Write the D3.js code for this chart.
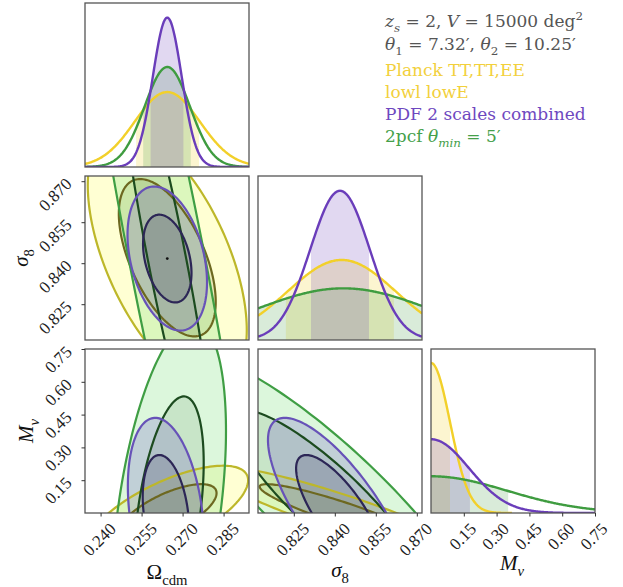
<!DOCTYPE html>
<html><head><meta charset="utf-8">
<script src="https://cdn.jsdelivr.net/npm/d3@7"></script>
<style>body{margin:0;background:#fff}svg{display:block}</style>
</head><body>
<svg id="chart" width="623" height="587"></svg>
<script>
// ---------------- DATA ----------------
const paramNames = ["Ωcdm", "σ8", "Mν"];
const omegaDomain = [0.2343, 0.2943];
const sigma8Domain = [0.8119, 0.8719];
const mnuDomain = [0, 0.75];
const omegaTicks = [0.240, 0.255, 0.270, 0.285];
const sigma8Ticks = [0.825, 0.840, 0.855, 0.870];
const mnuTicks = [0.15, 0.30, 0.45, 0.60, 0.75];

// series order: Planck, PDF 2 scales combined, 2pcf
const seriesNames = ["Planck TT,TT,EE lowl lowE", "PDF 2 scales combined", "2pcf θmin = 5′"];

// 1D marginals (mean, width, peak height as fraction of panel, 68% band)
const omegaMean = [0.2644, 0.2644, 0.2644];
const omegaSigma = [0.0119, 0.00527, 0.00827];
const omegaPeak = [0.457, 0.911, 0.61];
const omegaBandLo = [0.2530, 0.2583, 0.2556];
const omegaBandHi = [0.2760, 0.2703, 0.2730];

const sigma8Mean = [0.8425, 0.8419, 0.8431];
const sigma8Sigma = [0.0198, 0.0109, 0.0315];
const sigma8Peak = [0.488, 0.91, 0.315];
const sigma8BandLo = [0.8221, 0.8313, 0.8116];
const sigma8BandHi = [0.8616, 0.8525, 0.8746];

const mnuMean = [0, 0, 0];
const mnuSigma = [0.0869, 0.174, 0.348];
const mnuPeak = [0.915, 0.45, 0.224];
const mnuBandLo = [0, 0, 0];
const mnuBandHi = [0.0869, 0.178, 0.353];
const mnuCurveEnd = [0.37, 0.75, 0.75];

// 2D contours: Ωcdm – σ8
const omSigCx = [0.2644, 0.2644, 0.2642];
const omSigCy = [0.8420, 0.8417, 0.8420];
const omSigSx = [0.0117, 0.00585, 0.01244];
const omSigSy = [0.0190, 0.0106, 0.0585];
const omSigRho = [-0.56, -0.33, -0.91];
const omSigK68 = [1.515, 1.515, 1.37];
const omSigK95 = [2.486, 2.486, 2.72];

// 2D contours: Ωcdm – Mν
const omMnuCx = [0.2644, 0.2639, 0.2650];
const omMnuCy = [0, 0, 0];
const omMnuSx = [0.0119, 0.0056, 0.0084];
const omMnuSy = [0.087, 0.175, 0.352];
const omMnuRho = [0.69, -0.28, 0.43];
const omMnuK68 = [1.515, 1.515, 1.515];
const omMnuK95 = [2.486, 2.486, 2.486];

// 2D contours: σ8 – Mν
const sigMnuCx = [0.8425, 0.8419, 0.8370];
const sigMnuCy = [0, 0, 0.065];
const sigMnuSx = [0.0198, 0.0106, 0.02276];
const sigMnuSy = [0.087, 0.175, 0.2675];
const sigMnuRho = [-0.913, -0.766, -0.87];
const sigMnuK68 = [1.515, 1.515, 1.515];
const sigMnuK95 = [2.486, 2.486, 2.486];

const fiducialPoint = [0.2644, 0.8417];

// ---------------- STYLE ----------------
const lineColor1D = ["#f2d02a", "#6a3dba", "#3f9c40"];
const fill1D = ["rgba(242,208,42,0.22)", "rgba(106,61,186,0.2)", "rgba(63,156,64,0.2)"];
const outerLine2D = ["#bdb72a", "#6752b8", "#3f9e44"];
const innerLine2D = ["#6d6820", "#2c2656", "#1c4b1f"];
const outerFill2D = ["rgba(255,255,150,0.42)", "rgba(110,90,200,0.25)", "rgba(140,230,140,0.3)"];
const innerFill2D = ["rgba(110,110,30,0.15)", "rgba(40,30,80,0.16)", "rgba(30,80,30,0.1)"];
const drawOrder = [0, 2, 1];

const size = 164, colX = [85, 258, 431], rowY = [3, 176, 349];
const svg = d3.select("#chart");
const domains = [omegaDomain, sigma8Domain, mnuDomain];
const xS = domains.map((d, i) => d3.scaleLinear().domain(d).range([colX[i], colX[i] + size]));
const yS = domains.map((d, i) => d3.scaleLinear().domain(d).range([rowY[i] + size, rowY[i]]));

const defs = svg.append("defs");
function clipFor(c, r) {
  const id = "clip" + c + r;
  defs.append("clipPath").attr("id", id).append("rect")
    .attr("x", colX[c]).attr("y", rowY[r]).attr("width", size).attr("height", size);
  return "url(#" + id + ")";
}

// ------------- 1D panels -------------
const marg = [
  {mean: omegaMean, sig: omegaSigma, peak: omegaPeak, lo: omegaBandLo, hi: omegaBandHi, end: null},
  {mean: sigma8Mean, sig: sigma8Sigma, peak: sigma8Peak, lo: sigma8BandLo, hi: sigma8BandHi, end: null},
  {mean: mnuMean, sig: mnuSigma, peak: mnuPeak, lo: mnuBandLo, hi: mnuBandHi, end: mnuCurveEnd}
];
marg.forEach((m, i) => {
  const g = svg.append("g").attr("clip-path", clipFor(i, i));
  const x = xS[i];
  const y = d3.scaleLinear().domain([0, 1]).range([rowY[i] + size, rowY[i]]);
  const dens = (s, v) => m.peak[s] * Math.exp(-0.5 * Math.pow((v - m.mean[s]) / m.sig[s], 2));
  const samp = (a, b) => d3.range(201).map(k => a + (b - a) * k / 200);
  drawOrder.forEach(s => {
    const lo = Math.max(m.lo[s], domains[i][0]), hi = Math.min(m.hi[s], domains[i][1]);
    g.append("path").datum(samp(lo, hi))
      .attr("fill", fill1D[s]).attr("stroke", "none")
      .attr("d", d3.area().x(v => x(v)).y0(y(0)).y1(v => y(dens(s, v))));
  });
  drawOrder.forEach(s => {
    const end = m.end ? m.end[s] : domains[i][1];
    g.append("path").datum(samp(domains[i][0], end))
      .attr("fill", "none").attr("stroke", lineColor1D[s]).attr("stroke-width", 2.4)
      .attr("d", d3.line().x(v => x(v)).y(v => y(dens(s, v))));
  });
});

// ------------- 2D panels -------------
const pan2 = [
  {c: 0, r: 1, cx: omSigCx, cy: omSigCy, sx: omSigSx, sy: omSigSy, rho: omSigRho, k1: omSigK68, k2: omSigK95},
  {c: 0, r: 2, cx: omMnuCx, cy: omMnuCy, sx: omMnuSx, sy: omMnuSy, rho: omMnuRho, k1: omMnuK68, k2: omMnuK95},
  {c: 1, r: 2, cx: sigMnuCx, cy: sigMnuCy, sx: sigMnuSx, sy: sigMnuSy, rho: sigMnuRho, k1: sigMnuK68, k2: sigMnuK95}
];
function ellipse(p, s, k) {
  const q = Math.sqrt(1 - p.rho[s] * p.rho[s]);
  return d3.range(0, 360, 2).map(a => {
    const t = a * Math.PI / 180;
    return [p.cx[s] + k * p.sx[s] * Math.cos(t),
            p.cy[s] + k * p.sy[s] * (p.rho[s] * Math.cos(t) + q * Math.sin(t))];
  });
}
pan2.forEach(p => {
  const g = svg.append("g").attr("clip-path", clipFor(p.c, p.r));
  const line = d3.line().x(d => xS[p.c](d[0])).y(d => yS[p.r](d[1])).curve(d3.curveLinearClosed);
  drawOrder.forEach(s => {
    g.append("path").attr("d", line(ellipse(p, s, p.k2[s]))).attr("fill", outerFill2D[s]);
    g.append("path").attr("d", line(ellipse(p, s, p.k1[s]))).attr("fill", innerFill2D[s]);
  });
  drawOrder.forEach(s => {
    g.append("path").attr("d", line(ellipse(p, s, p.k2[s]))).attr("fill", "none")
      .attr("stroke", outerLine2D[s]).attr("stroke-width", 2.2);
    g.append("path").attr("d", line(ellipse(p, s, p.k1[s]))).attr("fill", "none")
      .attr("stroke", innerLine2D[s]).attr("stroke-width", 2.2);
  });
  if (p.r === 1) {
    g.append("circle").attr("cx", xS[0](fiducialPoint[0])).attr("cy", yS[1](fiducialPoint[1]))
      .attr("r", 1.4).attr("fill", "#111");
  }
});

// ------------- frames -------------
[[0,0],[0,1],[1,1],[0,2],[1,2],[2,2]].forEach(([c, r]) => {
  svg.append("rect").attr("x", colX[c]).attr("y", rowY[r]).attr("width", size).attr("height", size)
    .attr("fill", "none").attr("stroke", "#555").attr("stroke-width", 1.3);
});

// ------------- axes -------------
const tickFont = "'Liberation Serif', serif";
const tickFS = 17;
const xTickSets = [omegaTicks, sigma8Ticks, mnuTicks];
const fmt = [d3.format(".3f"), d3.format(".3f"), d3.format(".2f")];
const bottomY = rowY[2] + size;
xTickSets.forEach((ticks, i) => {
  const ax = svg.append("g").attr("transform", `translate(0,${bottomY})`)
    .call(d3.axisBottom(xS[i]).tickValues(ticks).tickSize(3.5).tickFormat(""));
  ax.select(".domain").remove();
  ax.selectAll("line").attr("stroke", "#333");
  ticks.forEach(t => {
    const tx = xS[i](t);
    const txt = svg.append("text").text(fmt[i](t))
      .attr("font-family", tickFont).attr("font-size", tickFS).attr("fill", "#222")
      .attr("text-anchor", "middle").attr("dominant-baseline", "central");
    const L = txt.node().getComputedTextLength();
    const boxW = (L + 0.68 * tickFS) * 0.7071;
    const cx = tx - 1, cy = bottomY + 9 + boxW / 2;
    txt.attr("x", cx).attr("y", cy).attr("transform", `rotate(-45,${cx},${cy})`);
  });
});
const yTickSets = [null, sigma8Ticks, mnuTicks];
[1, 2].forEach(r => {
  const ax = svg.append("g").attr("transform", `translate(${colX[0]},0)`)
    .call(d3.axisLeft(yS[r]).tickValues(yTickSets[r]).tickSize(3.5).tickFormat(""));
  ax.select(".domain").remove();
  ax.selectAll("line").attr("stroke", "#333");
  yTickSets[r].forEach(t => {
    const ty = yS[r](t), ax0 = 69;
    svg.append("text").text(fmt[r](t))
      .attr("font-family", tickFont).attr("font-size", tickFS).attr("fill", "#222")
      .attr("text-anchor", "end").attr("dominant-baseline", "central")
      .attr("x", ax0).attr("y", ty).attr("transform", `rotate(-45,${ax0},${ty})`);
  });
});

// ------------- rich text helper -------------
function rich(x, y, parts, opt) {
  const fs = opt.fs;
  const t = svg.append("text").attr("x", x).attr("y", y)
    .attr("font-family", opt.font).attr("font-size", fs).attr("fill", opt.color)
    .attr("text-anchor", opt.anchor || "start");
  if (opt.rotate) t.attr("transform", `rotate(${opt.rotate},${x},${y})`);
  let shift = 0;
  parts.forEach(p => {
    const target = p.sub ? fs * 0.28 : p.sup ? -fs * 0.42 : 0;
    const ts = t.append("tspan").text(p.t).attr("dy", target - shift);
    shift = target;
    if (p.i) ts.attr("font-style", "italic");
    if (p.sub || p.sup) ts.attr("font-size", fs * 0.7);
  });
  return t;
}

// axis labels
const labFont = "'Liberation Serif', serif";
const labOpt = {fs: 21, font: labFont, color: "#111", anchor: "middle"};
rich(167, 579, [{t: "Ω"}, {t: "cdm", sub: true}], labOpt);
rich(340, 577, [{t: "σ", i: true}, {t: "8", sub: true}], labOpt);
rich(512, 570, [{t: "M", i: true}, {t: "ν", sub: true, i: true}], labOpt);
rich(28, 258, [{t: "σ", i: true}, {t: "8", sub: true}], Object.assign({}, labOpt, {rotate: -90}));
rich(33, 431, [{t: "M", i: true}, {t: "ν", sub: true, i: true}], Object.assign({}, labOpt, {rotate: -90}));

// legend / annotation text
const legFont = "'DejaVu Serif', serif";
const legX = 385;
const grayTxt = "#555";
rich(legX, 27, [{t: "z", i: true}, {t: "s", sub: true, i: true}, {t: " = 2, "}, {t: "V", i: true},
  {t: " = 15000 deg"}, {t: "2", sup: true}], {fs: 17, font: legFont, color: grayTxt});
rich(legX, 50, [{t: "θ", i: true}, {t: "1", sub: true}, {t: " = 7.32′, "}, {t: "θ", i: true},
  {t: "2", sub: true}, {t: " = 10.25′"}], {fs: 17, font: legFont, color: grayTxt});
rich(legX, 76, [{t: "Planck TT,TT,EE"}], {fs: 17, font: legFont, color: "#f2d03c"});
rich(legX, 98, [{t: "lowl lowE"}], {fs: 17, font: legFont, color: "#f2d03c"});
rich(legX, 120, [{t: "PDF 2 scales combined"}], {fs: 17, font: legFont, color: "#6e48c0"});
rich(legX, 142, [{t: "2pcf "}, {t: "θ", i: true}, {t: "min", sub: true, i: true}, {t: " = 5′"}],
  {fs: 17, font: legFont, color: "#45a04a"});
</script>
</body></html>
